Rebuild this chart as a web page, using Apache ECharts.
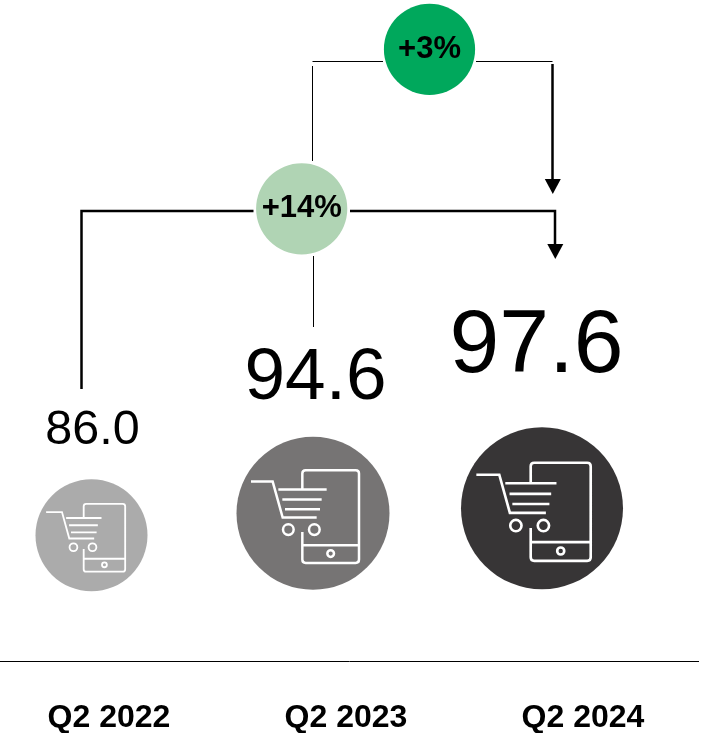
<!DOCTYPE html>
<html>
<head>
<meta charset="utf-8">
<style>html,body{margin:0;padding:0;background:#fff}#c{width:712px;height:733px}</style>
<script src="https://cdn.jsdelivr.net/npm/echarts@6/dist/echarts.min.js"></script>
</head>
<body>
<div id="c"></div>
<script>
// Data
const categories = ['Q2 2022', 'Q2 2023', 'Q2 2024'];
const values = [86.0, 94.6, 97.6];
const changeLabels = ['+14%', '+3%'];

// Styling and layout (not data)
const FONT = '"Liberation Sans", Arial, sans-serif';
const circleColors = ['#ABABAB', '#767474', '#373536'];
const circleDiameters = [112, 153, 162];
const offsetX = [-17.5, -33, -41];
const offsetY = [0, -2, 0];
const labelFont = [48.5, 73, 89.5];
const labelDX = [-16.5, -30.5, -46.5];
const labelDY = [-104.5, -136, -161];
const iconPath =
  'M-32,-74 V-119 Q-32,-129 -22,-129 H128 Q138,-129 138,-119 V139 Q138,149 128,149 H-22 Q-32,149 -32,139 V56 ' +
  'M-32,96 H138 ' +
  'M43,121 A10,10 0 1 1 63,121 A10,10 0 1 1 43,121 ' +
  'M-186,-95 H-121 L-91,13 H11 ' +
  'M-104,-71 H41 M-92,-41 H26 M-84,-12 H21 ' +
  'M-90,49 A16,16 0 1 1 -58,49 A16,16 0 1 1 -90,49 ' +
  'M-12,49 A16,16 0 1 1 20,49 A16,16 0 1 1 -12,49';

const chart = echarts.init(document.getElementById('c'), null, {renderer: 'canvas'});

const line = (points, w) => ({
  type: 'polyline', shape: {points}, style: {stroke: '#000', lineWidth: w, fill: null}, silent: true
});
const arrow = (x, baseY, tipY) => ({
  type: 'polygon', shape: {points: [[x - 8, baseY], [x + 8, baseY], [x, tipY]]}, style: {fill: '#000'}, silent: true
});
const badge = (cx, cy, text, color) => ({
  type: 'group', children: [
    {type: 'circle', shape: {cx, cy, r: 45.6}, style: {fill: color}},
    {type: 'text', x: cx, y: cy, style: {text, fill: '#000', font: 'bold 31px ' + FONT, align: 'center', verticalAlign: 'middle'}}
  ]
});

chart.setOption({
  animation: false,
  backgroundColor: '#fff',
  grid: {left: -9.5, width: 711, top: 0, height: 661, containLabel: false, outerBoundsMode: 'none'},
  xAxis: {
    type: 'category', data: categories,
    axisLine: {show: false}, axisTick: {show: false}, splitLine: {show: false},
    axisLabel: {color: '#000', fontFamily: FONT, fontWeight: 'bold', fontSize: 32, margin: 41, interval: 0, hideOverlap: false}
  },
  yAxis: {type: 'value', min: 32, max: 315.94, show: false},
  series: [
    {
      type: 'scatter', z: 2,
      data: values.map((v, i) => ({
        value: [categories[i], v],
        symbolSize: circleDiameters[i],
        symbolOffset: [offsetX[i], offsetY[i]],
        itemStyle: {color: circleColors[i], opacity: 1}
      })),
      silent: true
    },
    {
      type: 'custom', z: 3, silent: true,
      data: values.map((v, i) => [i, v]),
      encode: {x: 0, y: 1},
      renderItem(params, api) {
        const i = api.value(0);
        const p = api.coord([i, api.value(1)]);
        const cx = p[0] + offsetX[i], cy = p[1] + offsetY[i];
        const s = circleDiameters[i] / 2 / 76.5 / 3;
        return {
          type: 'group',
          children: [
            {
              type: 'path', x: cx, y: cy, scaleX: s, scaleY: s,
              shape: {pathData: iconPath},
              style: {fill: 'none', stroke: '#fff', lineWidth: 7.5}
            },
            {
              type: 'text', x: p[0] + labelDX[i], y: p[1] + labelDY[i],
              style: {
                text: api.value(1).toFixed(1), fill: '#000',
                font: labelFont[i] + 'px ' + FONT, align: 'center', verticalAlign: 'middle'
              }
            }
          ]
        };
      }
    }
  ],
  graphic: {
    elements: [
      line([[0, 661.5], [699, 661.5]], 1),
      // +3% bracket
      line([[312.5, 161], [312.5, 66]], 1),
      line([[312.5, 61.5], [383, 61.5]], 1),
      line([[476, 61.5], [552.5, 61.5]], 1),
      line([[552.5, 64], [552.5, 181]], 2.5),
      arrow(552.8, 179, 194),
      // +14% bracket
      line([[81.5, 389], [81.5, 211], [253.5, 211]], 2.5),
      line([[350, 211], [555, 211], [555, 245]], 2.5),
      arrow(555.3, 244, 259),
      line([[313.5, 256], [313.5, 327]], 1),
      badge(301.7, 208.8, changeLabels[0], '#B0D4B4'),
      badge(429.5, 49.3, changeLabels[1], '#00A85C')
    ]
  }
});
</script>
</body>
</html>
